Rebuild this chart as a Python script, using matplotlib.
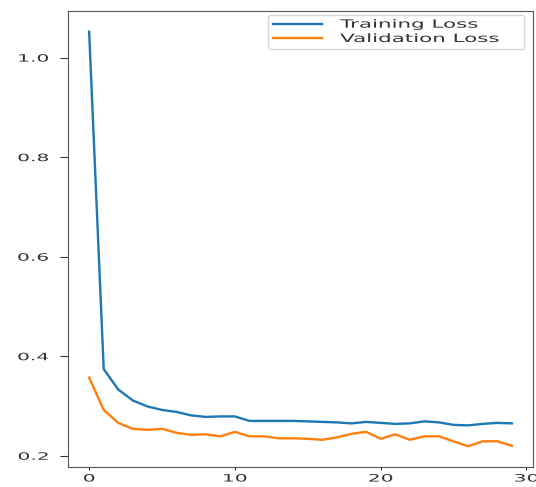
"""Training vs validation loss curves (horizontally stretched text)."""

import matplotlib

matplotlib.use("Agg")
import matplotlib.pyplot as plt
import numpy as np
from matplotlib.patheffects import AbstractPathEffect
from matplotlib.transforms import Affine2D

epochs = np.arange(30)

train_loss = [
    1.052, 0.374, 0.333, 0.311, 0.299, 0.292, 0.288, 0.281, 0.278, 0.279,
    0.279, 0.270, 0.270, 0.270, 0.270, 0.269, 0.268, 0.267, 0.265, 0.268,
    0.266, 0.264, 0.265, 0.269, 0.267, 0.262, 0.261, 0.264, 0.266, 0.265,
]

val_loss = [
    0.357, 0.292, 0.266, 0.254, 0.252, 0.254, 0.246, 0.242, 0.243, 0.239,
    0.248, 0.239, 0.239, 0.235, 0.235, 0.234, 0.232, 0.237, 0.244, 0.248,
    0.234, 0.243, 0.232, 0.239, 0.239, 0.229, 0.219, 0.229, 0.229, 0.220,
]

x_ticks = [0, 10, 20, 30]
y_ticks = [0.2, 0.4, 0.6, 0.8, 1.0]

TEXT_COLOR = "#333333"
STRETCH = 2.0


class StretchText(AbstractPathEffect):
    """Widen glyphs horizontally about an anchor (0=left, 0.5=center, 1=right)."""

    def __init__(self, sx, anchor=0.0):
        super().__init__()
        self.sx = sx
        self.anchor = anchor

    def draw_path(self, renderer, gc, tpath, affine, rgbFace=None):
        m = affine.get_matrix()
        ext = tpath.get_extents()
        x_local = ext.x0 + self.anchor * (ext.x1 - ext.x0)
        xa = m[0, 0] * x_local + m[0, 2]
        stretch = Affine2D().translate(-xa, 0).scale(self.sx, 1).translate(xa, 0)
        renderer.draw_path(gc, tpath, affine + stretch, rgbFace)


fig = plt.figure(figsize=(5.36, 4.87), dpi=100)
ax = fig.add_axes([68 / 536, 20 / 487, 465 / 536, 456 / 487])

ax.plot(epochs, train_loss, label="Training Loss", linewidth=1.7)
ax.plot(epochs, val_loss, label="Validation Loss", linewidth=1.7)

ax.set_xticks(x_ticks)
ax.set_yticks(y_ticks)
ax.tick_params(colors=TEXT_COLOR, labelsize=7.3)
ax.tick_params(axis="x", length=2.2, pad=2.5)
ax.tick_params(axis="y", length=5.5, pad=8.5)
for spine in ax.spines.values():
    spine.set_color("#555555")

for lab in ax.get_xticklabels():
    lab.set_path_effects([StretchText(STRETCH, 0.5)])
for lab in ax.get_yticklabels():
    lab.set_path_effects([StretchText(STRETCH, 1.0)])

leg = ax.legend(
    loc="upper left",
    bbox_to_anchor=(0.431, 0.991, 0.55, 0.0),
    mode="expand",
    borderaxespad=0,
    fontsize=8.2,
    handlelength=4.3,
    handletextpad=1.6,
    labelspacing=0.38,
)
for txt in leg.get_texts():
    txt.set_color(TEXT_COLOR)
    txt.set_path_effects([StretchText(1.88, 0.0)])

fig.savefig("out.png", dpi=100)
plt.close(fig)
